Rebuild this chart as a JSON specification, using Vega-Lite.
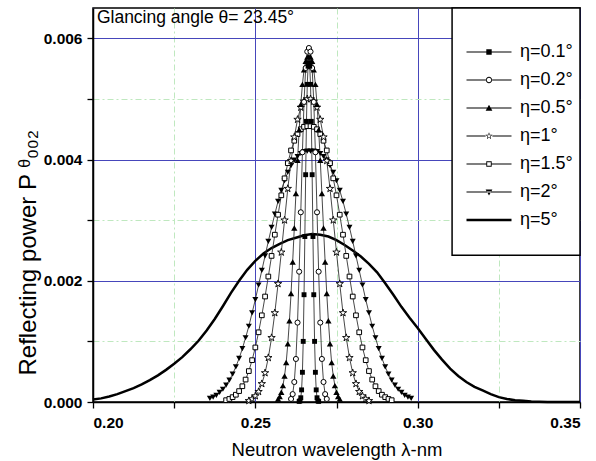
{
"$schema":"https://vega.github.io/schema/vega-lite/v6.json",
"width":487,"height":394,
"autosize":"none",
"padding":{"left":93,"top":8,"right":16,"bottom":59},
"background":"white",
"config":{"view":{"stroke":"black","strokeWidth":1.5},"font":"Liberation Sans"},
"datasets":{"curves":[
{"s":"η=5°","x":0.2,"y":0.00004},{"s":"η=5°","x":0.2025,"y":0.00006},{"s":"η=5°","x":0.205,"y":0.00009},{"s":"η=5°","x":0.2075,"y":0.00013},{"s":"η=5°","x":0.21,"y":0.00018},{"s":"η=5°","x":0.2125,"y":0.00023},{"s":"η=5°","x":0.215,"y":0.00029},{"s":"η=5°","x":0.2175,"y":0.00036},{"s":"η=5°","x":0.22,"y":0.00044},{"s":"η=5°","x":0.2225,"y":0.00053},{"s":"η=5°","x":0.225,"y":0.00063},{"s":"η=5°","x":0.2275,"y":0.00074},{"s":"η=5°","x":0.23,"y":0.00087},{"s":"η=5°","x":0.2325,"y":0.00101},{"s":"η=5°","x":0.235,"y":0.00118},{"s":"η=5°","x":0.2375,"y":0.00137},{"s":"η=5°","x":0.24,"y":0.00158},{"s":"η=5°","x":0.2425,"y":0.0018},{"s":"η=5°","x":0.245,"y":0.002},{"s":"η=5°","x":0.2475,"y":0.00218},{"s":"η=5°","x":0.25,"y":0.00233},{"s":"η=5°","x":0.2525,"y":0.00245},{"s":"η=5°","x":0.255,"y":0.00254},{"s":"η=5°","x":0.2575,"y":0.00261},{"s":"η=5°","x":0.26,"y":0.00267},{"s":"η=5°","x":0.2625,"y":0.00271},{"s":"η=5°","x":0.265,"y":0.00275},{"s":"η=5°","x":0.2675,"y":0.00277},{"s":"η=5°","x":0.27,"y":0.00276},{"s":"η=5°","x":0.2725,"y":0.00273},{"s":"η=5°","x":0.275,"y":0.00267},{"s":"η=5°","x":0.2775,"y":0.00259},{"s":"η=5°","x":0.28,"y":0.0025},{"s":"η=5°","x":0.2825,"y":0.0024},{"s":"η=5°","x":0.285,"y":0.00228},{"s":"η=5°","x":0.2875,"y":0.00214},{"s":"η=5°","x":0.29,"y":0.00196},{"s":"η=5°","x":0.2925,"y":0.00177},{"s":"η=5°","x":0.295,"y":0.00157},{"s":"η=5°","x":0.2975,"y":0.00139},{"s":"η=5°","x":0.3,"y":0.00122},{"s":"η=5°","x":0.3025,"y":0.00104},{"s":"η=5°","x":0.305,"y":0.00086},{"s":"η=5°","x":0.3075,"y":0.0007},{"s":"η=5°","x":0.31,"y":0.00055},{"s":"η=5°","x":0.3125,"y":0.00043},{"s":"η=5°","x":0.315,"y":0.00033},{"s":"η=5°","x":0.3175,"y":0.00025},{"s":"η=5°","x":0.32,"y":0.00019},{"s":"η=5°","x":0.3225,"y":0.00013},{"s":"η=5°","x":0.325,"y":0.00008},{"s":"η=5°","x":0.3275,"y":0.00005},{"s":"η=5°","x":0.33,"y":0.00003},{"s":"η=5°","x":0.3325,"y":0.00002},{"s":"η=5°","x":0.335,"y":0.00001},{"s":"η=5°","x":0.34,"y":0},{"s":"η=5°","x":0.345,"y":0},{"s":"η=5°","x":0.35,"y":0},
{"s":"η=2°","x":0.236,"y":0.00006},{"s":"η=2°","x":0.237,"y":0.00008},{"s":"η=2°","x":0.238,"y":0.00011},{"s":"η=2°","x":0.239,"y":0.00016},{"s":"η=2°","x":0.24,"y":0.00021},{"s":"η=2°","x":0.241,"y":0.00028},{"s":"η=2°","x":0.242,"y":0.00036},{"s":"η=2°","x":0.243,"y":0.00046},{"s":"η=2°","x":0.244,"y":0.00058},{"s":"η=2°","x":0.245,"y":0.00072},{"s":"η=2°","x":0.246,"y":0.00088},{"s":"η=2°","x":0.247,"y":0.00106},{"s":"η=2°","x":0.248,"y":0.00125},{"s":"η=2°","x":0.249,"y":0.00147},{"s":"η=2°","x":0.25,"y":0.00169},{"s":"η=2°","x":0.251,"y":0.00193},{"s":"η=2°","x":0.252,"y":0.00217},{"s":"η=2°","x":0.253,"y":0.00241},{"s":"η=2°","x":0.254,"y":0.00265},{"s":"η=2°","x":0.255,"y":0.00288},{"s":"η=2°","x":0.256,"y":0.0031},{"s":"η=2°","x":0.257,"y":0.00331},{"s":"η=2°","x":0.258,"y":0.00349},{"s":"η=2°","x":0.259,"y":0.00365},{"s":"η=2°","x":0.26,"y":0.00379},{"s":"η=2°","x":0.261,"y":0.0039},{"s":"η=2°","x":0.262,"y":0.00399},{"s":"η=2°","x":0.263,"y":0.00405},{"s":"η=2°","x":0.264,"y":0.0041},{"s":"η=2°","x":0.265,"y":0.00413},{"s":"η=2°","x":0.266,"y":0.00414},{"s":"η=2°","x":0.267,"y":0.00414},{"s":"η=2°","x":0.268,"y":0.00414},{"s":"η=2°","x":0.269,"y":0.00413},{"s":"η=2°","x":0.27,"y":0.0041},{"s":"η=2°","x":0.271,"y":0.00405},{"s":"η=2°","x":0.272,"y":0.00399},{"s":"η=2°","x":0.273,"y":0.0039},{"s":"η=2°","x":0.274,"y":0.00379},{"s":"η=2°","x":0.275,"y":0.00365},{"s":"η=2°","x":0.276,"y":0.00349},{"s":"η=2°","x":0.277,"y":0.00331},{"s":"η=2°","x":0.278,"y":0.0031},{"s":"η=2°","x":0.279,"y":0.00288},{"s":"η=2°","x":0.28,"y":0.00265},{"s":"η=2°","x":0.281,"y":0.00241},{"s":"η=2°","x":0.282,"y":0.00217},{"s":"η=2°","x":0.283,"y":0.00193},{"s":"η=2°","x":0.284,"y":0.00169},{"s":"η=2°","x":0.285,"y":0.00147},{"s":"η=2°","x":0.286,"y":0.00125},{"s":"η=2°","x":0.287,"y":0.00106},{"s":"η=2°","x":0.288,"y":0.00088},{"s":"η=2°","x":0.289,"y":0.00072},{"s":"η=2°","x":0.29,"y":0.00058},{"s":"η=2°","x":0.291,"y":0.00046},{"s":"η=2°","x":0.292,"y":0.00036},{"s":"η=2°","x":0.293,"y":0.00028},{"s":"η=2°","x":0.294,"y":0.00021},{"s":"η=2°","x":0.295,"y":0.00016},{"s":"η=2°","x":0.296,"y":0.00011},{"s":"η=2°","x":0.297,"y":0.00008},{"s":"η=2°","x":0.298,"y":0.00006},
{"s":"η=1.5°","x":0.241,"y":0.00003},{"s":"η=1.5°","x":0.242,"y":0.00005},{"s":"η=1.5°","x":0.243,"y":0.00008},{"s":"η=1.5°","x":0.244,"y":0.00012},{"s":"η=1.5°","x":0.245,"y":0.00018},{"s":"η=1.5°","x":0.246,"y":0.00026},{"s":"η=1.5°","x":0.247,"y":0.00037},{"s":"η=1.5°","x":0.248,"y":0.00051},{"s":"η=1.5°","x":0.249,"y":0.00069},{"s":"η=1.5°","x":0.25,"y":0.0009},{"s":"η=1.5°","x":0.251,"y":0.00115},{"s":"η=1.5°","x":0.252,"y":0.00143},{"s":"η=1.5°","x":0.253,"y":0.00174},{"s":"η=1.5°","x":0.254,"y":0.00207},{"s":"η=1.5°","x":0.255,"y":0.00241},{"s":"η=1.5°","x":0.256,"y":0.00276},{"s":"η=1.5°","x":0.257,"y":0.00309},{"s":"η=1.5°","x":0.258,"y":0.00341},{"s":"η=1.5°","x":0.259,"y":0.00369},{"s":"η=1.5°","x":0.26,"y":0.00394},{"s":"η=1.5°","x":0.261,"y":0.00415},{"s":"η=1.5°","x":0.262,"y":0.00431},{"s":"η=1.5°","x":0.263,"y":0.00442},{"s":"η=1.5°","x":0.264,"y":0.0045},{"s":"η=1.5°","x":0.265,"y":0.00454},{"s":"η=1.5°","x":0.266,"y":0.00455},{"s":"η=1.5°","x":0.267,"y":0.00455},{"s":"η=1.5°","x":0.268,"y":0.00454},{"s":"η=1.5°","x":0.269,"y":0.0045},{"s":"η=1.5°","x":0.27,"y":0.00442},{"s":"η=1.5°","x":0.271,"y":0.00431},{"s":"η=1.5°","x":0.272,"y":0.00415},{"s":"η=1.5°","x":0.273,"y":0.00394},{"s":"η=1.5°","x":0.274,"y":0.00369},{"s":"η=1.5°","x":0.275,"y":0.00341},{"s":"η=1.5°","x":0.276,"y":0.00309},{"s":"η=1.5°","x":0.277,"y":0.00276},{"s":"η=1.5°","x":0.278,"y":0.00241},{"s":"η=1.5°","x":0.279,"y":0.00207},{"s":"η=1.5°","x":0.28,"y":0.00174},{"s":"η=1.5°","x":0.281,"y":0.00143},{"s":"η=1.5°","x":0.282,"y":0.00115},{"s":"η=1.5°","x":0.283,"y":0.0009},{"s":"η=1.5°","x":0.284,"y":0.00069},{"s":"η=1.5°","x":0.285,"y":0.00051},{"s":"η=1.5°","x":0.286,"y":0.00037},{"s":"η=1.5°","x":0.287,"y":0.00026},{"s":"η=1.5°","x":0.288,"y":0.00018},{"s":"η=1.5°","x":0.289,"y":0.00012},{"s":"η=1.5°","x":0.29,"y":0.00008},{"s":"η=1.5°","x":0.291,"y":0.00005},{"s":"η=1.5°","x":0.292,"y":0.00003},
{"s":"η=1°","x":0.248,"y":0.00002},{"s":"η=1°","x":0.249,"y":0.00005},{"s":"η=1°","x":0.25,"y":0.0001},{"s":"η=1°","x":0.251,"y":0.00017},{"s":"η=1°","x":0.252,"y":0.0003},{"s":"η=1°","x":0.253,"y":0.00048},{"s":"η=1°","x":0.254,"y":0.00073},{"s":"η=1°","x":0.255,"y":0.00106},{"s":"η=1°","x":0.256,"y":0.00147},{"s":"η=1°","x":0.257,"y":0.00195},{"s":"η=1°","x":0.258,"y":0.00247},{"s":"η=1°","x":0.259,"y":0.003},{"s":"η=1°","x":0.26,"y":0.00352},{"s":"η=1°","x":0.261,"y":0.00398},{"s":"η=1°","x":0.262,"y":0.00437},{"s":"η=1°","x":0.263,"y":0.00466},{"s":"η=1°","x":0.264,"y":0.00486},{"s":"η=1°","x":0.265,"y":0.00496},{"s":"η=1°","x":0.266,"y":0.005},{"s":"η=1°","x":0.267,"y":0.005},{"s":"η=1°","x":0.268,"y":0.00496},{"s":"η=1°","x":0.269,"y":0.00486},{"s":"η=1°","x":0.27,"y":0.00466},{"s":"η=1°","x":0.271,"y":0.00437},{"s":"η=1°","x":0.272,"y":0.00398},{"s":"η=1°","x":0.273,"y":0.00352},{"s":"η=1°","x":0.274,"y":0.003},{"s":"η=1°","x":0.275,"y":0.00247},{"s":"η=1°","x":0.276,"y":0.00195},{"s":"η=1°","x":0.277,"y":0.00147},{"s":"η=1°","x":0.278,"y":0.00106},{"s":"η=1°","x":0.279,"y":0.00073},{"s":"η=1°","x":0.28,"y":0.00048},{"s":"η=1°","x":0.281,"y":0.0003},{"s":"η=1°","x":0.282,"y":0.00017},{"s":"η=1°","x":0.283,"y":0.0001},{"s":"η=1°","x":0.284,"y":0.00005},{"s":"η=1°","x":0.285,"y":0.00002},
{"s":"η=0.5°","x":0.257,"y":0.00005},{"s":"η=0.5°","x":0.2575,"y":0.00009},{"s":"η=0.5°","x":0.258,"y":0.00016},{"s":"η=0.5°","x":0.2585,"y":0.00027},{"s":"η=0.5°","x":0.259,"y":0.00043},{"s":"η=0.5°","x":0.2595,"y":0.00065},{"s":"η=0.5°","x":0.26,"y":0.00096},{"s":"η=0.5°","x":0.2605,"y":0.00134},{"s":"η=0.5°","x":0.261,"y":0.00179},{"s":"η=0.5°","x":0.2615,"y":0.00231},{"s":"η=0.5°","x":0.262,"y":0.00287},{"s":"η=0.5°","x":0.2625,"y":0.00344},{"s":"η=0.5°","x":0.263,"y":0.00399},{"s":"η=0.5°","x":0.2635,"y":0.00449},{"s":"η=0.5°","x":0.264,"y":0.00491},{"s":"η=0.5°","x":0.2645,"y":0.00524},{"s":"η=0.5°","x":0.265,"y":0.00548},{"s":"η=0.5°","x":0.2655,"y":0.00562},{"s":"η=0.5°","x":0.266,"y":0.00569},{"s":"η=0.5°","x":0.2665,"y":0.0057},{"s":"η=0.5°","x":0.267,"y":0.00569},{"s":"η=0.5°","x":0.2675,"y":0.00562},{"s":"η=0.5°","x":0.268,"y":0.00548},{"s":"η=0.5°","x":0.2685,"y":0.00524},{"s":"η=0.5°","x":0.269,"y":0.00491},{"s":"η=0.5°","x":0.2695,"y":0.00449},{"s":"η=0.5°","x":0.27,"y":0.00399},{"s":"η=0.5°","x":0.2705,"y":0.00344},{"s":"η=0.5°","x":0.271,"y":0.00287},{"s":"η=0.5°","x":0.2715,"y":0.00231},{"s":"η=0.5°","x":0.272,"y":0.00179},{"s":"η=0.5°","x":0.2725,"y":0.00134},{"s":"η=0.5°","x":0.273,"y":0.00096},{"s":"η=0.5°","x":0.2735,"y":0.00065},{"s":"η=0.5°","x":0.274,"y":0.00043},{"s":"η=0.5°","x":0.2745,"y":0.00027},{"s":"η=0.5°","x":0.275,"y":0.00016},{"s":"η=0.5°","x":0.2755,"y":0.00009},{"s":"η=0.5°","x":0.276,"y":0.00005},
{"s":"η=0.2°","x":0.261,"y":0.00005},{"s":"η=0.2°","x":0.2615,"y":0.00013},{"s":"η=0.2°","x":0.262,"y":0.00033},{"s":"η=0.2°","x":0.2625,"y":0.00071},{"s":"η=0.2°","x":0.263,"y":0.00131},{"s":"η=0.2°","x":0.2635,"y":0.00215},{"s":"η=0.2°","x":0.264,"y":0.00313},{"s":"η=0.2°","x":0.2645,"y":0.00412},{"s":"η=0.2°","x":0.265,"y":0.00495},{"s":"η=0.2°","x":0.2655,"y":0.00551},{"s":"η=0.2°","x":0.266,"y":0.00578},{"s":"η=0.2°","x":0.2665,"y":0.00584},{"s":"η=0.2°","x":0.267,"y":0.00578},{"s":"η=0.2°","x":0.2675,"y":0.00551},{"s":"η=0.2°","x":0.268,"y":0.00495},{"s":"η=0.2°","x":0.2685,"y":0.00412},{"s":"η=0.2°","x":0.269,"y":0.00313},{"s":"η=0.2°","x":0.2695,"y":0.00215},{"s":"η=0.2°","x":0.27,"y":0.00131},{"s":"η=0.2°","x":0.2705,"y":0.00071},{"s":"η=0.2°","x":0.271,"y":0.00033},{"s":"η=0.2°","x":0.2715,"y":0.00013},{"s":"η=0.2°","x":0.272,"y":0.00005},
{"s":"η=0.1°","x":0.2635,"y":0.00001},{"s":"η=0.1°","x":0.26375,"y":0.00002},{"s":"η=0.1°","x":0.264,"y":0.00007},{"s":"η=0.1°","x":0.26425,"y":0.0002},{"s":"η=0.1°","x":0.2645,"y":0.00049},{"s":"η=0.1°","x":0.26475,"y":0.001},{"s":"η=0.1°","x":0.265,"y":0.00177},{"s":"η=0.1°","x":0.26525,"y":0.00273},{"s":"η=0.1°","x":0.2655,"y":0.00375},{"s":"η=0.1°","x":0.26575,"y":0.00463},{"s":"η=0.1°","x":0.266,"y":0.00524},{"s":"η=0.1°","x":0.26625,"y":0.00554},{"s":"η=0.1°","x":0.2665,"y":0.0056},{"s":"η=0.1°","x":0.26675,"y":0.00554},{"s":"η=0.1°","x":0.267,"y":0.00524},{"s":"η=0.1°","x":0.26725,"y":0.00463},{"s":"η=0.1°","x":0.2675,"y":0.00375},{"s":"η=0.1°","x":0.26775,"y":0.00273},{"s":"η=0.1°","x":0.268,"y":0.00177},{"s":"η=0.1°","x":0.26825,"y":0.001},{"s":"η=0.1°","x":0.2685,"y":0.00049},{"s":"η=0.1°","x":0.26875,"y":0.0002},{"s":"η=0.1°","x":0.269,"y":0.00007},{"s":"η=0.1°","x":0.26925,"y":0.00002},{"s":"η=0.1°","x":0.2695,"y":0.00001}
]},
"layer":[
 {"data":{"name":"curves"},
  "encoding":{
   "x":{"field":"x","type":"quantitative","title":"Neutron wavelength λ-nm",
    "scale":{"domain":[0.2,0.35],"nice":false,"zero":false},
    "axis":{"values":[0.2,0.225,0.25,0.275,0.3,0.325,0.35],
     "labelExpr":"round(datum.value*1000) % 50 == 0 ? format(datum.value, '.2f') : ''",
     "labelFont":"Liberation Sans","labelFontWeight":"bold","labelFontSize":15.5,"labelColor":"black","labelPadding":7,
     "tickSize":6,"tickColor":"black","tickWidth":1.3,
     "grid":true,
     "gridColor":{"condition":{"test":"round(datum.value*1000) % 50 == 0","value":"#4646bb"},"value":"#bfe8bf"},
     "gridDash":{"condition":{"test":"round(datum.value*1000) % 50 == 0","value":[]},"value":[6,3,2,3]},
     "gridWidth":1,
     "domainColor":"black","domainWidth":1.5,
     "titleFont":"Liberation Sans","titleFontSize":18.5,"titleFontWeight":"normal","titleColor":"black","titleY":53,"titleBaseline":"alphabetic",
     "encode":{"ticks":{"update":{"y2":{"signal":"round(datum.value*1000) % 50 == 0 ? 8 : 5"}}}}}},
   "y":{"field":"y","type":"quantitative","title":"Reflecting power  P ᶿ₀₀₂",
    "scale":{"domain":[0,0.0065],"nice":false},
    "axis":{"values":[0,0.001,0.002,0.003,0.004,0.005,0.006],
     "labelExpr":"round(datum.value*10000) % 20 == 0 ? format(datum.value, '.3f') : ''",
     "labelFont":"Liberation Sans","labelFontWeight":"bold","labelFontSize":15.5,"labelColor":"black","labelPadding":5,
     "tickSize":6,"tickColor":"black","tickWidth":1.3,
     "grid":true,
     "gridColor":{"condition":{"test":"round(datum.value*10000) % 20 == 0","value":"#4646bb"},"value":"#bfe8bf"},
     "gridDash":{"condition":{"test":"round(datum.value*10000) % 20 == 0","value":[]},"value":[6,3,2,3]},
     "gridWidth":1,
     "domainColor":"black","domainWidth":1.5,
     "titleFont":"Liberation Sans","titleFontSize":24,"titleFontWeight":"normal","titleColor":"black",
     "titleX":-65,"titleY":367,"titleAlign":"left","titleBaseline":"middle","titleAngle":270,
     "encode":{"ticks":{"update":{"x2":{"signal":"round(datum.value*10000) % 20 == 0 ? -6 : -4"}}}}}}
  },
  "layer":[
   {"transform":[{"filter":"datum.s == 'η=5°'"}],"mark":{"type":"line","color":"black","strokeWidth":2.5}},
   {"transform":[{"filter":"datum.s != 'η=5°'"}],"mark":{"type":"line","color":"#333333","strokeWidth":0.9},"encoding":{"detail":{"field":"s"}}},
   {"transform":[{"filter":"datum.s == 'η=2°'"}],"mark":{"type":"point","shape":"triangle-down","filled":true,"color":"black","size":36,"opacity":1}},
   {"transform":[{"filter":"datum.s == 'η=1.5°'"}],"mark":{"type":"point","shape":"square","filled":true,"fill":"white","stroke":"black","strokeWidth":1,"size":22,"opacity":1}},
   {"transform":[{"filter":"datum.s == 'η=1°'"}],"mark":{"type":"point","shape":"M0,-1L0.2245,-0.309L0.951,-0.309L0.363,0.118L0.588,0.809L0,0.382L-0.588,0.809L-0.363,0.118L-0.951,-0.309L-0.2245,-0.309Z","filled":true,"fill":"white","stroke":"black","strokeWidth":0.9,"size":60,"opacity":1}},
   {"transform":[{"filter":"datum.s == 'η=0.5°'"}],"mark":{"type":"point","shape":"triangle-up","filled":true,"color":"black","size":40,"opacity":1}},
   {"transform":[{"filter":"datum.s == 'η=0.2°'"}],"mark":{"type":"point","shape":"circle","filled":true,"fill":"white","stroke":"black","strokeWidth":1,"size":26,"opacity":1}},
   {"transform":[{"filter":"datum.s == 'η=0.1°'"}],"mark":{"type":"point","shape":"square","filled":true,"color":"black","size":24,"opacity":1}}
  ]},
 {"data":{"values":[{"box":"legend frame"}]},"mark":{"type":"rect","fill":"white","stroke":"black","strokeWidth":1.5,"opacity":1},
  "encoding":{"x":{"datum":0.3106,"type":"quantitative"},"x2":{"datum":0.35},"y":{"datum":0.00242,"type":"quantitative"},"y2":{"datum":0.0065}}},
 {"data":{"name":"curves"},"transform":[{"filter":"false"}],"mark":{"type":"point","filled":true,"color":"black","opacity":1},
  "encoding":{"shape":{"field":"s","type":"nominal",
   "scale":{"domain":["η=0.1°","η=0.2°","η=0.5°","η=1°","η=1.5°","η=2°","η=5°"],
    "range":["M-3,-0.065H3V0.065H-3ZM-0.36,-0.36H0.36V0.36H-0.36Z",
     "M-3,-0.065H-0.42V0.065H-3ZM0.42,-0.065H3V0.065H0.42ZM-0.42,0A0.42,0.42,0,1,1,0.42,0A0.42,0.42,0,1,1,-0.42,0ZM-0.3,0A0.3,0.3,0,1,0,0.3,0A0.3,0.3,0,1,0,-0.3,0Z",
     "M-3,-0.065H3V0.065H-3ZM0,-0.45L0.45,0.35H-0.45Z",
     "M-3,-0.065H-0.45V0.065H-3ZM0.45,-0.065H3V0.065H0.45ZM0,-0.5L0.118,-0.162L0.476,-0.154L0.19,0.062L0.294,0.405L0,0.2L-0.294,0.405L-0.19,0.062L-0.476,-0.154L-0.118,-0.162ZM0,-0.3L-0.071,-0.097L-0.286,-0.092L-0.114,0.037L-0.176,0.243L0,0.12L0.176,0.243L0.114,0.037L0.286,-0.092L0.071,-0.097Z",
     "M-3,-0.065H-0.36V0.065H-3ZM0.36,-0.065H3V0.065H0.36ZM-0.36,-0.36H0.36V0.36H-0.36ZM-0.24,-0.24V0.24H0.24V-0.24Z",
     "M-3,-0.065H3V0.065H-3ZM0,0.45L0.45,-0.35H-0.45Z",
     "M-3,-0.16H3V0.16H-3Z"]},
   "legend":{"orient":"none","legendX":387,"legendY":35,"title":null,"symbolSize":225,
    "symbolFillColor":"black","symbolOpacity":1,"symbolStrokeWidth":0,
    "labelFont":"Liberation Sans","labelFontSize":18,"labelColor":"black","labelOffset":22,"rowPadding":10,"padding":0}}}},
 {"data":{"values":[{"label":"Glancing angle θ= 23.45°"}]},
  "mark":{"type":"text","align":"left","baseline":"middle","font":"Liberation Sans","fontSize":17.5,"color":"black"},
  "encoding":{"x":{"datum":0.2012},"y":{"datum":0.00633},"text":{"field":"label"}}}
]
}
